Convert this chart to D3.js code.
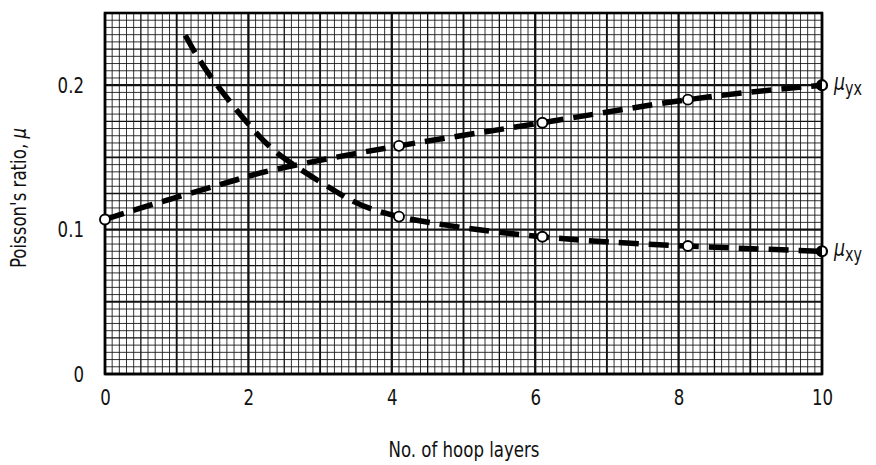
<!DOCTYPE html>
<html>
<head>
<meta charset="utf-8">
<script src="https://cdn.jsdelivr.net/npm/d3@7"></script>
<style>
  html, body { margin: 0; padding: 0; background: #fff; }
  svg { display: block; }
  text { font-family: "Liberation Sans Narrow", "DejaVu Sans Condensed", "Roboto Condensed", sans-serif; font-stretch: condensed; fill: #111; }
</style>
</head>
<body>
<svg id="chart" width="876" height="465"></svg>
<script>
// Poisson's ratio versus number of hoop layers
const xTicks = [0, 2, 4, 6, 8, 10];
const yTicks = [0, 0.1, 0.2];

// mu_yx curve and its marked points
const yxLayers = [0, 0.7, 1.8, 2.5, 4.1, 6.1, 8.13, 10];
const yxRatio  = [0.107, 0.118, 0.134, 0.143, 0.158, 0.174, 0.190, 0.200];
const yxMarkLayers = [0, 4.1, 6.1, 8.13];
const yxMarkRatio  = [0.107, 0.158, 0.174, 0.190];

// mu_xy curve and its marked points
const xyLayers = [1.12, 1.46, 2.02, 2.51, 3.2, 4.1, 6.1, 8.13, 10];
const xyRatio  = [0.2346, 0.207, 0.172, 0.149, 0.127, 0.109, 0.095, 0.0886, 0.085];
const xyMarkLayers = [4.1, 6.1, 8.13];
const xyMarkRatio  = [0.109, 0.095, 0.0886];

// end points of both curves carry half-filled markers
const endLayers = [10, 10];
const endRatio  = [0.200, 0.085];
const seriesLabels = ["yx", "xy"];

const svg = d3.select("#chart");
const x = d3.scaleLinear().domain([0, 10]).range([105, 822]);
const y = d3.scaleLinear().domain([0, 0.25]).range([374, 13]);

// tall, narrow lettering
const NARROW = "scale(0.84,1)";

// graph-paper grid
const grid = svg.append("g").attr("class", "grid");
const xs = d3.range(0, 101).map(i => i / 10);
const ys = d3.range(0, 51).map(i => i * 0.005);
const gw = i => i % 20 === 0 ? 2.3 : i % 10 === 0 ? 1.9 : i % 5 === 0 ? 1.3 : 1;
grid.selectAll("line.v").data(xs).join("line")
  .attr("class", "v")
  .attr("x1", d => x(d)).attr("x2", d => x(d))
  .attr("y1", y(0)).attr("y2", y(0.25))
  .attr("stroke", "#111")
  .attr("stroke-opacity", (d, i) => i % 5 === 0 ? 1 : 0.85)
  .attr("stroke-width", (d, i) => gw(i));
grid.selectAll("line.h").data(ys).join("line")
  .attr("class", "h")
  .attr("y1", d => y(d)).attr("y2", d => y(d))
  .attr("x1", x(0)).attr("x2", x(10))
  .attr("stroke", "#111")
  .attr("stroke-opacity", (d, i) => i % 5 === 0 ? 1 : 0.85)
  .attr("stroke-width", (d, i) => gw(i));
svg.append("rect")
  .attr("x", x(0)).attr("y", y(0.25))
  .attr("width", x(10) - x(0)).attr("height", y(0) - y(0.25))
  .attr("fill", "none").attr("stroke", "#000").attr("stroke-width", 2.6);

// axes: labels only, no ticks or domain
const xAxis = svg.append("g")
  .attr("transform", `translate(0,${y(0) + 12})`)
  .call(d3.axisBottom(x).tickValues(xTicks).tickSize(0).tickFormat(d3.format("d")));
xAxis.select(".domain").remove();
xAxis.selectAll("text").attr("font-size", 22).attr("dy", "0.72em")
  .attr("transform", NARROW)
  .style("font-family", null);

const yAxis = svg.append("g")
  .attr("transform", `translate(${x(0) - 21},0)`)
  .call(d3.axisLeft(y).tickValues(yTicks).tickSize(0).tickFormat(d => d === 0 ? "0" : d3.format(".1f")(d)));
yAxis.select(".domain").remove();
yAxis.selectAll("text").attr("font-size", 22).attr("x", 0)
  .attr("transform", NARROW)
  .style("font-family", null);

svg.append("g").attr("transform", "translate(464,457)")
  .append("text")
  .attr("transform", NARROW)
  .attr("text-anchor", "middle").attr("font-size", 22)
  .text("No. of hoop layers");

const yTitle = svg.append("g").attr("transform", "translate(26,198) rotate(-90)")
  .append("text")
  .attr("transform", NARROW)
  .attr("text-anchor", "middle").attr("font-size", 22);
yTitle.append("tspan").text("Poisson's ratio, ");
yTitle.append("tspan").attr("font-style", "italic").text("μ");

// dashed curves
const line = d3.line().x(d => x(d[0])).y(d => y(d[1])).curve(d3.curveNatural);
const curves = [d3.zip(yxLayers, yxRatio), d3.zip(xyLayers, xyRatio)];
svg.selectAll("path.curve").data(curves).join("path")
  .attr("class", "curve")
  .attr("d", line)
  .attr("fill", "none")
  .attr("stroke", "#000")
  .attr("stroke-width", 5.5)
  .attr("stroke-dasharray", "20,10")
  .attr("stroke-linecap", "butt");

// open circle markers
const marks = d3.zip(yxMarkLayers, yxMarkRatio).concat(d3.zip(xyMarkLayers, xyMarkRatio));
svg.selectAll("circle.mark").data(marks).join("circle")
  .attr("class", "mark")
  .attr("cx", d => x(d[0])).attr("cy", d => y(d[1]))
  .attr("r", 5)
  .attr("fill", "#fff").attr("stroke", "#000").attr("stroke-width", 1.9);

// half-filled end markers
const ends = d3.zip(endLayers, endRatio);
svg.selectAll("circle.end").data(ends).join("circle")
  .attr("class", "end")
  .attr("cx", d => x(d[0])).attr("cy", d => y(d[1]))
  .attr("r", 5)
  .attr("fill", "#fff").attr("stroke", "#000").attr("stroke-width", 2.2);
const halfArc = d3.arc().innerRadius(0).outerRadius(5.5).startAngle(Math.PI).endAngle(2 * Math.PI);
svg.selectAll("path.endfill").data(ends).join("path")
  .attr("class", "endfill")
  .attr("transform", d => `translate(${x(d[0])},${y(d[1])})`)
  .attr("d", halfArc)
  .attr("fill", "#000");

// series labels with subscripts
const labels = svg.selectAll("g.series").data(d3.zip(endLayers, endRatio, seriesLabels)).join("g")
  .attr("class", "series")
  .attr("transform", d => `translate(${x(d[0]) + 12},${y(d[1]) + 5})`)
  .append("text")
  .attr("transform", NARROW)
  .attr("font-size", 23);
labels.append("tspan").attr("font-style", "italic").text("μ");
labels.append("tspan").attr("font-size", 19).attr("dy", 5).text(d => d[2]);
</script>
</body>
</html>
